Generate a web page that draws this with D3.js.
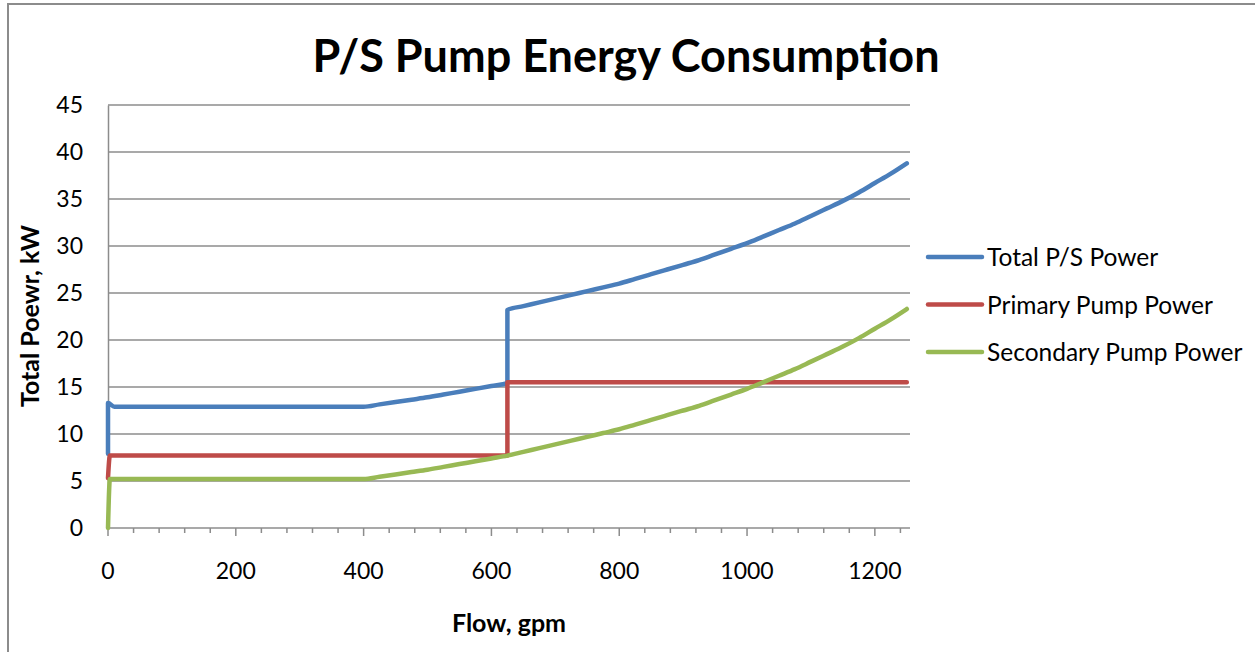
<!DOCTYPE html>
<html>
<head>
<meta charset="utf-8">
<script src="https://cdn.jsdelivr.net/npm/d3@7"></script>
<style>
  body { margin: 0; background: #fff; }
  text { font-family: Lato, "Noto Sans", sans-serif; fill: #000; }
</style>
</head>
<body>
<svg width="1255" height="652"></svg>
<script>
// flow (gpm) and power (kW)
const totalFlow = [0, 0, 10, 400, 425, 450, 475, 500, 525, 550, 575, 600, 625, 625, 650, 675, 700, 725, 750, 775, 800, 825, 850, 875, 900, 925, 950, 975, 1000, 1025, 1050, 1075, 1100, 1125, 1150, 1175, 1200, 1225, 1250];
const totalPower = [7.9, 13.3, 12.9, 12.9, 13.15, 13.4, 13.65, 13.9, 14.2, 14.5, 14.8, 15.1, 15.4, 23.2, 23.6, 24.0, 24.4, 24.8, 25.2, 25.6, 26.0, 26.5, 27.0, 27.5, 28.0, 28.5, 29.1, 29.7, 30.3, 31.0, 31.7, 32.4, 33.2, 34.0, 34.8, 35.7, 36.7, 37.7, 38.8];
const primaryFlow = [0, 3, 625, 625, 1250];
const primaryPower = [5.3, 7.7, 7.7, 15.5, 15.5];
const secondaryFlow = [0, 3, 400, 425, 450, 475, 500, 525, 550, 575, 600, 625, 650, 675, 700, 725, 750, 775, 800, 825, 850, 875, 900, 925, 950, 975, 1000, 1025, 1050, 1075, 1100, 1125, 1150, 1175, 1200, 1225, 1250];
const secondaryPower = [0, 5.2, 5.2, 5.45, 5.7, 5.95, 6.2, 6.5, 6.8, 7.1, 7.4, 7.7, 8.1, 8.5, 8.9, 9.3, 9.7, 10.1, 10.5, 11.0, 11.5, 12.0, 12.5, 13.0, 13.6, 14.2, 14.8, 15.5, 16.2, 16.9, 17.7, 18.5, 19.3, 20.2, 21.2, 22.2, 23.3];

const seriesNames = ["Total P/S Power", "Primary Pump Power", "Secondary Pump Power"];
const seriesColors = ["#4a7ebb", "#be4b48", "#98b954"];
const yTicks = [0, 5, 10, 15, 20, 25, 30, 35, 40, 45];
const xTicks = [0, 200, 400, 600, 800, 1000, 1200];

const series = [
    { name: seriesNames[0], color: seriesColors[0], pts: totalFlow.map((f, i) => [f, totalPower[i]]) },
    { name: seriesNames[1], color: seriesColors[1], pts: primaryFlow.map((f, i) => [f, primaryPower[i]]) },
    { name: seriesNames[2], color: seriesColors[2], pts: secondaryFlow.map((f, i) => [f, secondaryPower[i]]) }
];

let svg = d3.select("svg");
let x = d3.scaleLinear().domain([0, 1255]).range([108, 910]);
let y = d3.scaleLinear().domain([0, 45]).range([528, 105]);

// chart border (only top & left visible)
svg.append("path")
    .attr("d", "M8,652 L8,4 L1255,4")
    .attr("fill", "none")
    .attr("stroke", "#8c8c8c")
    .attr("stroke-width", 2);

// gridlines
svg.append("g").selectAll("line")
    .data(yTicks.filter(d => d > 0))
    .enter().append("line")
    .attr("x1", x(0)).attr("x2", x(1255))
    .attr("y1", d => y(d)).attr("y2", d => y(d))
    .attr("stroke", "#8c8c8c")
    .attr("stroke-width", 1.5);

// y axis
let yAxis = svg.append("g")
    .attr("transform", "translate(" + x(0) + ",0)")
    .call(d3.axisLeft(y).tickValues(yTicks).tickSize(0).tickPadding(25));
yAxis.select(".domain").attr("stroke", "#8c8c8c").attr("stroke-width", 1.5);
yAxis.selectAll("text").style("font-size", "23px").style("font-family", "Lato, sans-serif");

// x axis: minor ticks every 40, labels every 200
let xAxisG = svg.append("g").attr("transform", "translate(0," + y(0) + ")");
xAxisG.append("line")
    .attr("x1", x(0)).attr("x2", x(1255))
    .attr("stroke", "#8c8c8c").attr("stroke-width", 1.5);
xAxisG.selectAll(".minor")
    .data(d3.range(0, 1255, 40))
    .enter().append("line")
    .attr("x1", d => x(d)).attr("x2", d => x(d))
    .attr("y1", 0).attr("y2", d => d % 200 === 0 ? 8 : 5)
    .attr("stroke", "#8c8c8c").attr("stroke-width", 1.5);
xAxisG.selectAll(".lbl")
    .data(xTicks)
    .enter().append("text")
    .attr("x", d => x(d))
    .attr("y", 51)
    .attr("text-anchor", "middle")
    .style("font-size", "23px")
    .text(d => d);

// lines (monotone keeps the vertical jumps and flat parts clean)
let line = d3.line().x(d => x(d[0])).y(d => y(d[1])).curve(d3.curveMonotoneX);
svg.append("g").selectAll("path")
    .data(series)
    .enter().append("path")
    .attr("d", d => line(d.pts))
    .attr("fill", "none")
    .attr("stroke", d => d.color)
    .attr("stroke-width", 4.5)
    .attr("stroke-linecap", "round")
    .attr("stroke-linejoin", "round");

// title
svg.append("text")
    .attr("x", 626).attr("y", 72)
    .attr("text-anchor", "middle")
    .style("font-size", "45px").style("font-weight", "bold")
    .text("P/S Pump Energy Consumption");

// axis titles
svg.append("text")
    .attr("x", 509).attr("y", 632)
    .attr("text-anchor", "middle")
    .style("font-size", "25px").style("font-weight", "bold")
    .text("Flow, gpm");
svg.append("text")
    .attr("transform", "translate(39,316) rotate(-90)")
    .attr("text-anchor", "middle")
    .style("font-size", "25px").style("font-weight", "bold")
    .text("Total Poewr, kW");

// legend
let legend = svg.append("g").selectAll("g")
    .data(series)
    .enter().append("g")
    .attr("transform", (d, i) => "translate(928," + (257 + i * 47.5) + ")");
legend.append("line")
    .attr("x1", 0).attr("x2", 54)
    .attr("stroke", d => d.color)
    .attr("stroke-width", 4.5)
    .attr("stroke-linecap", "round");
legend.append("text")
    .attr("x", 59).attr("y", 9)
    .style("font-size", "24.5px")
    .text(d => d.name);
</script>
</body>
</html>
